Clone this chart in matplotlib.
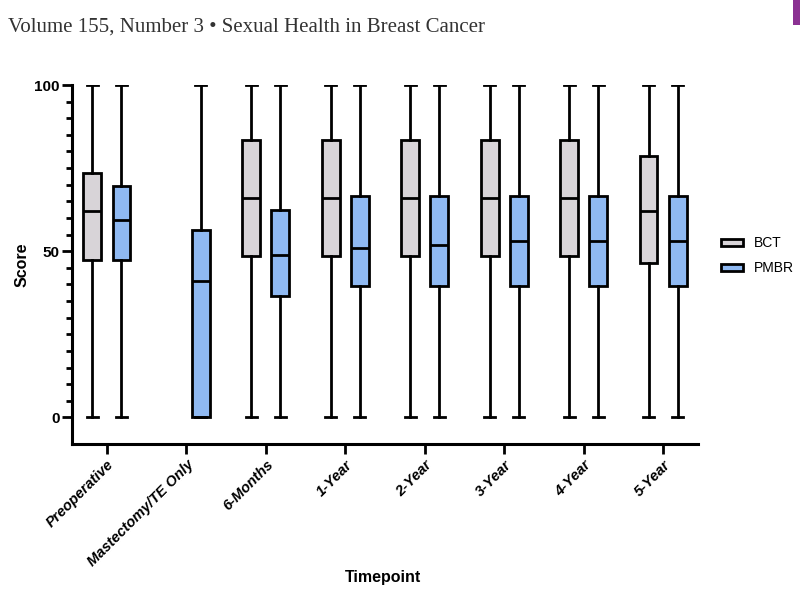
import matplotlib
matplotlib.use("Agg")
import matplotlib.pyplot as plt
from matplotlib.patches import Rectangle, Patch

plt.rcParams['font.family'] = ['Liberation Sans', 'DejaVu Sans']

timepoints = ["Preoperative", "Mastectomy/TE Only", "6-Months", "1-Year",
              "2-Year", "3-Year", "4-Year", "5-Year"]

# BCT (no value at Mastectomy/TE Only)
bct_idx = [0, 2, 3, 4, 5, 6, 7]
bct_min = [0, 0, 0, 0, 0, 0, 0]
bct_q1 = [47.5, 48.5, 48.5, 48.5, 48.5, 48.5, 46.5]
bct_med = [62, 66, 66, 66, 66, 66, 62]
bct_q3 = [73.5, 83.5, 83.5, 83.5, 83.5, 83.5, 78.5]
bct_max = [100, 100, 100, 100, 100, 100, 100]

# PMBR
pmbr_idx = [0, 1, 2, 3, 4, 5, 6, 7]
pmbr_min = [0, 0, 0, 0, 0, 0, 0, 0]
pmbr_q1 = [47.5, 0, 36.5, 39.5, 39.5, 39.5, 39.5, 39.5]
pmbr_med = [59.5, 41, 49, 51, 52, 53, 53, 53]
pmbr_q3 = [69.5, 56.5, 62.5, 66.5, 66.5, 66.5, 66.5, 66.5]
pmbr_max = [100, 100, 100, 100, 100, 100, 100, 100]

BCT_COLOR = "#d8d4d8"
PMBR_COLOR = "#8fb9f2"
off = 0.183
bw = 0.225
lw = 2.0


def stats(mn, q1, med, q3, mx):
    return [dict(whislo=a, q1=b, med=c, q3=d, whishi=e, fliers=[])
            for a, b, c, d, e in zip(mn, q1, med, q3, mx)]


fig = plt.figure(figsize=(8, 5.92), dpi=100)
ax = fig.add_axes([0.09, 0.25, 0.7825, 0.6064])

for st, idx, col, sign in [
    (stats(bct_min, bct_q1, bct_med, bct_q3, bct_max), bct_idx, BCT_COLOR, -1),
    (stats(pmbr_min, pmbr_q1, pmbr_med, pmbr_q3, pmbr_max), pmbr_idx, PMBR_COLOR, 1),
]:
    ax.bxp(st, positions=[i + sign * off for i in idx], widths=bw,
           patch_artist=True, showfliers=False,
           boxprops=dict(facecolor=col, edgecolor="black", linewidth=lw),
           medianprops=dict(color="black", linewidth=lw),
           whiskerprops=dict(color="black", linewidth=lw),
           capprops=dict(color="black", linewidth=lw),
           capwidths=0.14)

ax.set_xlim(-0.44, 7.44)
ax.set_ylim(-8, 100)
ax.spines["top"].set_visible(False)
ax.spines["right"].set_visible(False)
for s in ["left", "bottom"]:
    ax.spines[s].set_linewidth(2.2)

ax.set_yticks([0, 50, 100])
ax.set_yticks(range(0, 101, 5), minor=True)
ax.set_yticklabels(["0", "50", "100"], fontweight="bold", fontsize=11)
ax.tick_params(axis="y", which="major", length=7, width=2, pad=2)
ax.tick_params(axis="y", which="minor", length=4, width=2)
ax.set_xticks(range(len(timepoints)))
ax.set_xticklabels(timepoints, rotation=45, ha="right", rotation_mode="anchor",
                   fontweight="bold", fontstyle="italic", fontsize=10.5)
ax.tick_params(axis="x", length=7, width=2, pad=3)

ax.set_ylabel("Score", fontweight="bold", fontsize=11.5, labelpad=3)
fig.text(0.479, 0.025, "Timepoint", fontweight="bold", fontsize=11.5,
         ha="center", va="center")

handles = [Patch(facecolor=BCT_COLOR, edgecolor="black", linewidth=2, label="BCT"),
           Patch(facecolor=PMBR_COLOR, edgecolor="black", linewidth=2, label="PMBR")]
fig.legend(handles=handles, loc="center left", bbox_to_anchor=(0.885, 0.568),
           frameon=False, fontsize=10, handlelength=1.6, handleheight=0.4,
           labelspacing=0.8, handletextpad=0.8)

fig.text(0.01, 0.955, "Volume 155, Number 3 \u2022 Sexual Health in Breast Cancer",
         family="Liberation Serif", fontsize=15, color="#333333",
         ha="left", va="center")
fig.add_artist(Rectangle((0.991, 0.958), 0.009, 0.042, transform=fig.transFigure,
                         facecolor="#8b3192", edgecolor="none"))

fig.savefig("out.png", dpi=100)
